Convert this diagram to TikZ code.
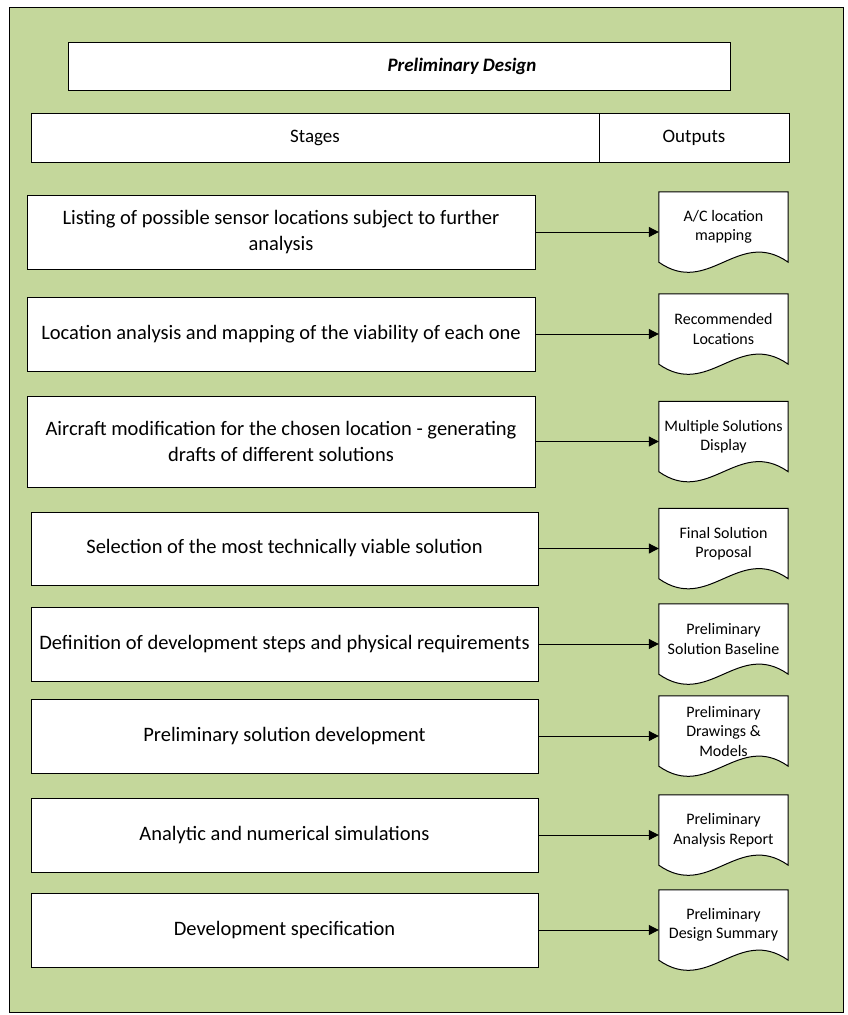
\documentclass[tikz,border=0pt]{standalone}
\usepackage{fontspec}
\setmainfont{Carlito}
\usetikzlibrary{arrows.meta,backgrounds}
\definecolor{panelgreen}{HTML}{C4D79B}
\tikzset{
	boxnode/.style = {draw=black, line width=1pt, fill=white, align=center, inner sep=0pt},
	titlebox/.style = {boxnode, minimum width=662pt, minimum height=48pt},
	titletext/.style = {inner sep=0pt, font=\fontsize{19}{22}\selectfont\bfseries\itshape},
	headcell/.style = {boxnode, minimum height=49pt, font=\fontsize{19}{22}\selectfont},
	stagebox/.style = {boxnode, minimum width=508pt, minimum height=74pt, font=\fontsize{20.5}{26}\selectfont},
	outdoc/.style = {align=center, inner sep=0pt, minimum width=129pt, minimum height=70pt, font=\fontsize{16}{19.5}\selectfont},
	docline/.style = {draw=black, line width=1pt, fill=white},
	flow/.style = {line width=1pt, -{Triangle[length=10pt,width=10pt]}}
}
\begin{document}
\begin{tikzpicture}[x=1pt, y=-1pt]
\useasboundingbox (0,0) rectangle (847,1015);

\node [titlebox] (title) at (399,66) {};
\node [titletext] (titletxt) at (462,66) {Preliminary Design};

\node [headcell, minimum width=568pt] (stagehead) at (315,137.5) {Stages};
\node [headcell, minimum width=190pt] (outhead) at (694,137.5) {Outputs};

\node [stagebox] (s1) at (281,232) {Listing of possible sensor locations subject to further\\analysis};
\node [stagebox] (s2) at (281,334) {Location analysis and mapping of the viability of each one};
\node [stagebox, minimum height=91pt] (s3) at (281,441.5) {Aircraft modification for the chosen location - generating\\drafts of different solutions};
\node [stagebox, minimum width=507pt, minimum height=73pt] (s4) at (284.5,548.5) {Selection of the most technically viable solution};
\node [stagebox, minimum width=507pt] (s5) at (284.5,644) {Definition of development steps and physical requirements};
\node [stagebox, minimum width=507pt] (s6) at (284.5,736) {Preliminary solution development};
\node [stagebox, minimum width=507pt] (s7) at (284.5,835) {Analytic and numerical simulations};
\node [stagebox, minimum width=507pt] (s8) at (284.5,930) {Development specification};

\node [outdoc] (o1) at (723.5,227) {A/C location\\mapping};
\node [outdoc] (o2) at (723.5,329) {Recommended\\Locations};
\node [outdoc] (o3) at (723.5,436.5) {Multiple Solutions\\Display};
\node [outdoc] (o4) at (723.5,543.5) {Final Solution\\Proposal};
\node [outdoc] (o5) at (723.5,639) {Preliminary\\Solution Baseline};
\node [outdoc] (o6) at (723.5,731) {Preliminary\\Drawings \&\\Models};
\node [outdoc] (o7) at (723.5,830) {Preliminary\\Analysis Report};
\node [outdoc] (o8) at (723.5,925) {Preliminary\\Design Summary};

\begin{scope}[on background layer]
\draw [line width=1pt, fill=panelgreen] (9,7) rectangle (843,1012);
\foreach \i in {1,...,8}
	\draw [docline] (o\i.north west) -- (o\i.north east) -- (o\i.south east)
		.. controls +(-50pt,35pt) and +(50pt,-35pt) .. (o\i.south west) -- cycle;
\end{scope}

\foreach \i in {1,...,8}
	\draw [flow] (s\i.east) -- (s\i.east -| o\i.west);
\end{tikzpicture}
\end{document}
